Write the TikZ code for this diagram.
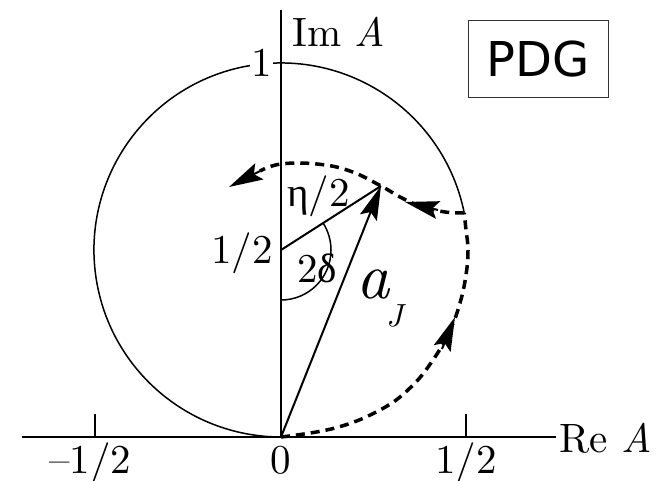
\documentclass[tikz,border=0pt]{standalone}
\usepackage{fontspec}
\setmainfont{lmroman10-regular.otf}[ItalicFont=lmroman10-italic.otf]
\newfontfamily\grk{Liberation Serif}
\newfontfamily\pdgfont{DejaVu Sans}
\usetikzlibrary{arrows.meta}
\begin{document}
\begin{tikzpicture}[x=1pt,y=-1pt,
  lbl/.style={font=\fontsize{41}{41}\selectfont, inner sep=0pt},
  axisline/.style={line width=1.8pt},
  circline/.style={line width=1.5pt},
  vecline/.style={line width=2pt},
  arr/.style={-{Stealth[length=34pt,width=18pt,inset=6pt]}, line width=2pt},
  dashpath/.style={line width=3.5pt, dash pattern=on 9pt off 6pt}]
\useasboundingbox (0,0) rectangle (669,481);
% key points
\coordinate (O) at (281,437);
\coordinate (C) at (281,250);
\coordinate (P) at (381,186);
\coordinate (K) at (464.2,212.7);
\coordinate (xL) at (22,437);
\coordinate (xR) at (556,437);
\coordinate (yT) at (281,10);
\coordinate (tL) at (95,437);  \coordinate (tLt) at (95,414);
\coordinate (tR) at (466,437); \coordinate (tRt) at (466,414);
\coordinate (F) at (260,171);  \coordinate (FT) at (229,187);
\coordinate (LB) at (438,210); \coordinate (LT) at (405,202);
\coordinate (UB) at (442,349); \coordinate (UT) at (455,317);
% axes
\draw[axisline] (xL) -- (xR);
\draw[axisline] (O) -- (yT);
\draw[axisline] (tL) -- (tLt);
\draw[axisline] (tR) -- (tRt);
% unitarity circle (solid part)
\draw[circline] (K) arc[start angle=-11.5, end angle=-270, radius=187];
% 2 delta arc
\draw[circline] (C) ++(0,50) arc[start angle=90, end angle=-32.6, radius=50];
% vectors
\draw[vecline] (C) -- (P);
\draw[arr] (O) -- (P);
% dashed trajectory
\draw[dashpath] plot[smooth, tension=0.7] coordinates {(O) (335,428) (380,410) (410,388) (433,360) (450,330) (460,303) (466,275) (468,250) (466,230) (K)};
\draw[dashpath] plot[smooth, tension=0.7] coordinates {(K) (445,212) (420,206) (400,197) (P) (350,171) (317,164) (281,164) (F)};
\draw[arr] (UB) -- (UT);
\draw[arr] (LB) -- (LT);
\draw[arr] (F) -- (FT);
% labels
\node[lbl, anchor=base west] (imA) at (292,47) {Im \textit{A}};
\node[lbl, anchor=base east, fill=white, inner sep=1pt] (one) at (273,77) {1};
\node[lbl, anchor=base west] (reA) at (559,452) {Re \textit{A}};
\node[lbl, anchor=base] (mhalf) at (90,473) {–1/2};
\node[lbl, anchor=base] (zero) at (281,473) {0};
\node[lbl, anchor=base] (phalf) at (466,473) {1/2};
\node[lbl, anchor=base east] (chalf) at (273,263) {1/2};
\node[lbl, anchor=base west] (eta) at (287,207) {{\grk η}/2};
\node[lbl, anchor=base west] (twod) at (297,282) {2{\grk δ}};
\node[anchor=base west, inner sep=0pt, font=\fontsize{65}{65}\selectfont\itshape] (aJa) at (356,298) {a};
\node[anchor=base west, inner sep=0pt, font=\fontsize{32}{32}\selectfont\itshape] (aJJ) at (386,326) {J};
\node[draw=black!80, line width=1pt, minimum width=140pt, minimum height=77pt, inner sep=0pt,
      font=\pdgfont\fontsize{48}{48}\selectfont] (pdg) at (538,59.5) {PDG};
\end{tikzpicture}
\end{document}
